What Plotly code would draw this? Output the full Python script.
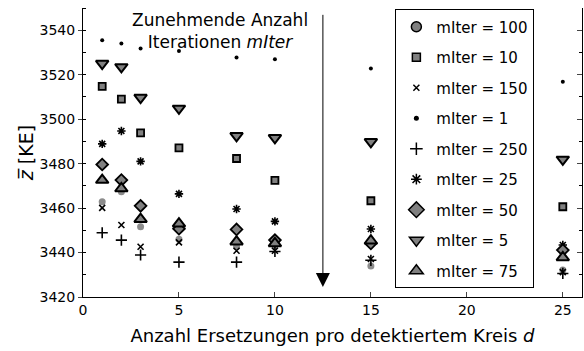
import plotly.graph_objects as go

d_values = [1, 2, 3, 5, 8, 10, 15, 25]

labels = ["100", "10", "150", "1", "250", "25", "50", "5", "75"]

z_m100 = [3462.8, 3467.3, 3451.6, 3446.0, 3442.6, 3443.0, 3433.9, 3432.1]
z_m10 = [3514.7, 3509.0, 3493.8, 3487.1, 3482.3, 3472.5, 3463.3, 3460.6]
z_m150 = [3460.1, 3452.4, 3442.6, 3444.6, 3440.8, 3440.8, 3437.1, 3431.2]
z_m1 = [3535.5, 3534.0, 3531.8, 3530.7, 3527.7, 3527.0, 3522.8, 3516.8]
z_m250 = [3448.9, 3445.6, 3438.9, 3435.7, 3435.7, 3440.5, 3436.5, 3430.6]
z_m25 = [3488.9, 3494.7, 3481.0, 3466.4, 3459.6, 3454.0, 3450.6, 3443.4]
z_m50 = [3479.6, 3472.6, 3461.0, 3450.7, 3450.4, 3445.6, 3444.1, 3441.1]
z_m5 = [3525.0, 3523.5, 3509.7, 3504.8, 3492.5, 3491.6, 3489.8, 3481.9]
z_m75 = [3472.6, 3468.8, 3455.0, 3453.0, 3444.9, 3444.1, 3445.3, 3437.8]

series = [z_m100, z_m10, z_m150, z_m1, z_m250, z_m25, z_m50, z_m5, z_m75]

x_ticks = [0, 5, 10, 15, 20, 25]
y_ticks = [3420, 3440, 3460, 3480, 3500, 3520, 3540]

GRAY = "#808080"
BLK = "black"

# plot marker styles
plot_styles = [
    dict(symbol="circle", size=7, color="#8c8c8c", line=dict(width=0)),
    dict(symbol="square", size=7, color=GRAY, line=dict(width=1.8, color=BLK)),
    dict(symbol="x-thin-open", size=6, color=BLK, line=dict(width=1.6, color=BLK)),
    dict(symbol="circle", size=4, color=BLK, line=dict(width=0)),
    dict(symbol="cross-thin-open", size=8, color=BLK, line=dict(width=1.6, color=BLK)),
    dict(symbol="asterisk-open", size=7, color=BLK, line=dict(width=1.6, color=BLK)),
    dict(symbol="diamond", size=9, color=GRAY, line=dict(width=1.8, color=BLK)),
    dict(symbol="triangle-down", size=11, color=GRAY, line=dict(width=2, color=BLK)),
    dict(symbol="triangle-up", size=11, color=GRAY, line=dict(width=2, color=BLK)),
]

legend_styles = [
    dict(symbol="circle", size=10, color=GRAY, line=dict(width=1.5, color=BLK)),
    dict(symbol="square", size=8, color=GRAY, line=dict(width=1.5, color=BLK)),
    dict(symbol="x-thin-open", size=6, color=BLK, line=dict(width=1.5, color=BLK)),
    dict(symbol="circle", size=5, color=BLK, line=dict(width=0)),
    dict(symbol="cross-thin-open", size=9, color=BLK, line=dict(width=1.5, color=BLK)),
    dict(symbol="asterisk-open", size=9, color=BLK, line=dict(width=1.5, color=BLK)),
    dict(symbol="diamond", size=12, color=GRAY, line=dict(width=1.5, color=BLK)),
    dict(symbol="triangle-down", size=12, color=GRAY, line=dict(width=1.5, color=BLK)),
    dict(symbol="triangle-up", size=12, color=GRAY, line=dict(width=1.5, color=BLK)),
]

fig = go.Figure()

for lab, vals, st in zip(labels, series, plot_styles):
    fig.add_trace(go.Scatter(x=d_values, y=vals, mode="markers", marker=st,
                             showlegend=False, hoverinfo="skip"))

for lab, st in zip(labels, legend_styles):
    fig.add_trace(go.Scatter(x=[None], y=[None], mode="markers", marker=st,
                             name="mIter = " + lab, legendgroup=lab,
                             showlegend=True, yaxis="y2"))

fig.add_annotation(x=7.16, y=3539.5, xref="x", yref="y",
                   text="Zunehmende Anzahl<br>Iterationen <i>mIter</i>",
                   showarrow=False, xanchor="center", yanchor="middle",
                   font=dict(size=17, color=BLK, family="DejaVu Sans"))

fig.add_annotation(x=12.5, y=3424.5, ax=12.5, ay=3547.6, xref="x", yref="y",
                   axref="x", ayref="y", text="", showarrow=True,
                   arrowhead=2, arrowsize=2.8, arrowwidth=1, arrowcolor=BLK)

fig.update_layout(
    width=584, height=351,
    margin=dict(l=83, r=2, t=8, b=54),
    paper_bgcolor="white", plot_bgcolor="white",
    font=dict(family="DejaVu Sans", color=BLK, size=14),
    legend=dict(x=0.626, y=0.995, xanchor="left", yanchor="top",
                bordercolor=BLK, borderwidth=1, bgcolor="white",
                font=dict(size=15), tracegroupgap=8, itemwidth=30),
    xaxis=dict(range=[0, 26], tickvals=x_ticks, ticks="inside", ticklen=5,
               showline=True, linecolor=BLK, linewidth=1, showgrid=False,
               zeroline=False, tickfont=dict(size=14),
               title=dict(text="Anzahl Ersetzungen pro detektiertem Kreis <i>d</i>",
                          font=dict(size=18), standoff=12)),
    yaxis=dict(range=[3420, 3550], tickvals=y_ticks, ticks="outside", ticklen=4,
               showline=True, linecolor=BLK, linewidth=1, showgrid=False,
               zeroline=False, tickfont=dict(size=14),
               minor=dict(ticks="inside", ticklen=3, dtick=10, tick0=3420,
                          tickcolor=BLK, showgrid=False),
               title=dict(text="<i>z\u0305</i> [KE]", font=dict(size=19), standoff=0)),
    yaxis2=dict(range=[3420, 3550], overlaying="y", side="right", anchor="x",
                tickvals=y_ticks, ticks="inside", ticklen=5, showticklabels=False,
                showline=True, linecolor=BLK, linewidth=1, showgrid=False,
                zeroline=False,
                minor=dict(ticks="inside", ticklen=3, dtick=10, tick0=3420,
                           tickcolor=BLK, showgrid=False)),
)

fig.write_html("out.html")
